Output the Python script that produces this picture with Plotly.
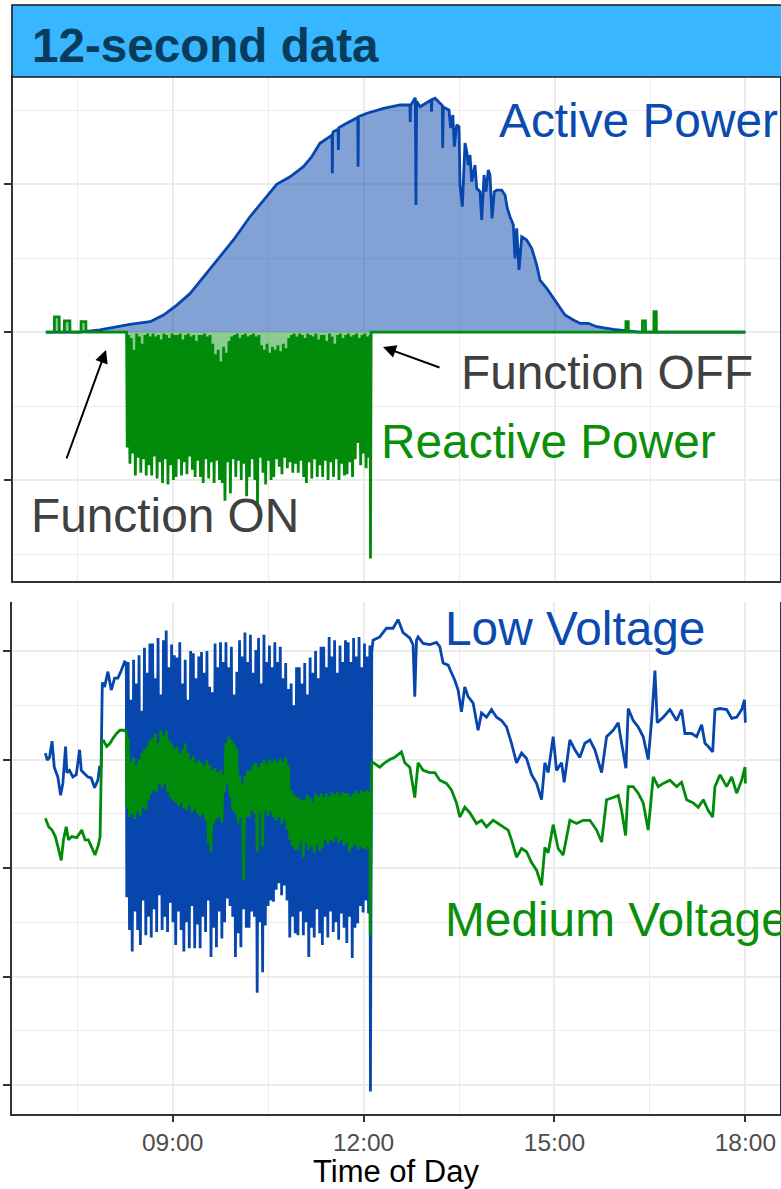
import numpy as np
import pandas as pd
import plotly.graph_objects as go

# ---------------------------------------------------------------------------
# Data (time of day in decimal hours; power in MW / MVAr; voltage in % of nominal)
# ---------------------------------------------------------------------------

# Active power, smooth irradiance-driven profile with cloud dips
P_HOURS = [7.00, 7.54, 7.85, 8.32, 8.64, 8.85, 9.06, 9.27, 9.42, 9.69, 9.95, 10.21,
           10.47, 10.63, 10.84, 11.05, 11.18, 11.31, 11.50, 11.505, 11.51, 11.52,
           11.595, 11.60, 11.605, 11.73, 11.905, 11.91, 11.915, 12.05, 12.31, 12.57,
           12.725, 12.73, 12.735, 12.81, 12.82, 12.83, 12.884, 13.06, 13.065, 13.07,
           13.12, 13.19, 13.235, 13.24, 13.25, 13.28, 13.34, 13.365, 13.40, 13.423,
           13.46, 13.497, 13.513, 13.549, 13.591, 13.618, 13.643, 13.67, 13.696,
           13.748, 13.775, 13.827, 13.854, 13.89, 13.921, 13.958, 13.984, 14.016,
           14.052, 14.09, 14.168, 14.22, 14.256, 14.299, 14.351, 14.377, 14.404,
           14.44, 14.483, 14.561, 14.64, 14.719, 14.77, 14.876, 14.98, 15.085,
           15.164, 15.294, 15.40, 15.53, 15.662, 15.923, 16.08, 16.34, 18.00]
P_MW = [0.0, 0.0, 0.014, 0.052, 0.07, 0.115, 0.182, 0.261, 0.34, 0.486, 0.622, 0.779,
        0.914, 0.998, 1.049, 1.117, 1.184, 1.275, 1.33, 1.072, 1.34, 1.353,
        1.37, 1.23, 1.38, 1.41, 1.45, 1.117, 1.455, 1.478, 1.511, 1.534,
        1.534, 1.419, 1.53, 1.583, 0.858, 1.56, 1.522, 1.568, 1.489, 1.568,
        1.579, 1.547, 1.53, 1.243, 1.52, 1.514, 1.50, 1.378, 1.466, 1.252,
        1.399, 1.387, 0.993, 0.847, 1.277, 1.218, 1.128, 1.196, 1.016,
        1.128, 0.971, 0.948, 0.757, 1.061, 0.948, 1.095, 1.061, 0.768,
        0.948, 0.959, 0.959, 0.926, 0.836, 0.779, 0.723, 0.498, 0.701,
        0.419, 0.644, 0.622, 0.566, 0.453, 0.351, 0.295, 0.228, 0.16,
        0.115, 0.081, 0.059, 0.059, 0.036, 0.018, 0.012, 0.0, 0.0]

# Reactive power before the volt-var function is switched on
Q_PRE_HOURS = [7.00, 7.134, 7.136, 7.21, 7.212, 7.29, 7.292, 7.378, 7.38,
               7.553, 7.555, 7.63, 7.632, 8.27]
Q_PRE_MVAR = [0.0, 0.0, 0.103, 0.103, 0.0, 0.0, 0.076, 0.076, 0.0,
              0.0, 0.07, 0.07, 0.0, 0.0]

# Oscillating 12-second block while the function is ON (08:17 - 12:06)
OSC_START_H = 8.28
OSC_END_H = 12.10
Q_OSC_MVAR = [
    -0.78, -0.02, -0.89, -0.04, -0.82, -0.12, -0.97, -0.01, -0.85, -0.03, -0.95, -0.08, -0.86, -0.02, -0.97, -0.01, -0.90, -0.03,
    -0.97, -0.01, -0.84, -0.03, -0.99, -0.02, -0.88, -0.05, -1.02, -0.01, -0.86, -0.02, -1.03, -0.04, -0.90, -0.01, -1.00, -0.02,
    -0.98, -0.02, -0.86, -0.01, -0.97, -0.05, -0.88, -0.02, -0.96, -0.01, -0.84, -0.03, -0.93, -0.02, -0.98, -0.06, -0.87, -0.02,
    -0.98, -0.02, -1.02, -0.01, -0.86, -0.03, -0.99, -0.02, -0.88, -0.08, -1.02, -0.15, -0.87, -0.12, -1.00, -0.20, -1.02, -0.10,
    -1.14, -0.14, -0.88, -0.06, -1.09, -0.03, -0.86, -0.02, -0.98, -0.01, -0.87, -0.04, -1.00, -0.02, -0.89, -0.01, -1.11, -0.03,
    -0.98, -0.02, -0.86, -0.01, -1.00, -0.03, -1.18, -0.02, -0.85, -0.09, -0.95, -0.12, -1.03, -0.08, -0.87, -0.14, -1.00, -0.10,
    -0.98, -0.12, -0.86, -0.09, -0.91, -0.13, -0.96, -0.08, -0.85, -0.11, -0.92, -0.04, -0.88, -0.02, -0.95, -0.01, -0.89, -0.03,
    -0.95, -0.01, -0.87, -0.02, -0.98, -0.04, -1.02, -0.01, -0.88, -0.02, -0.99, -0.03, -0.86, -0.01, -0.98, -0.05, -0.90, -0.02,
    -0.98, -0.02, -0.87, -0.06, -1.00, -0.01, -0.88, -0.03, -0.98, -0.08, -0.86, -0.02, -1.00, -0.01, -0.89, -0.04, -0.97, -0.02,
    -0.96, -0.01, -0.88, -0.03, -0.98, -0.02, -0.86, -0.01, -0.75, -0.04, -0.90, -0.02, -0.82, -0.01, -0.92, -0.03, -0.85, -0.02,
]

# Reactive power after the function is switched OFF
Q_POST_HOURS = [12.105, 12.115, 16.12, 16.122, 16.158, 16.16, 16.38, 16.382,
                16.428, 16.43, 16.56, 16.562, 16.598, 16.60, 18.00]
Q_POST_MVAR = [-1.53, 0.0, 0.0, 0.07, 0.07, 0.0, 0.0, 0.076,
               0.076, 0.0, 0.0, 0.137, 0.137, 0.0, 0.0]

# Low-voltage side
LV_PRE_HOURS = [7.00, 7.03, 7.066, 7.105, 7.14, 7.196, 7.24, 7.275, 7.318, 7.338,
                7.38, 7.432, 7.486, 7.538, 7.565, 7.668, 7.72, 7.774, 7.826, 7.852,
                7.876, 7.895, 7.931, 7.983, 8.036, 8.088, 8.14, 8.193, 8.245, 8.272]
LV_PRE_PCT = [101.06, 100.995, 101.02, 101.17, 100.93, 100.84, 100.67, 100.78, 101.12, 100.88,
              100.90, 100.84, 100.86, 101.09, 100.90, 100.84, 100.83, 100.74, 100.81, 100.93,
              100.93, 101.71, 101.67, 101.81, 101.64, 101.75, 101.75, 101.82, 101.90, 101.89]
LV_OSC_PCT = [
    99.73, 101.90, 99.43, 101.55, 99.23, 101.92, 99.60, 101.70, 99.43, 101.96, 99.29, 101.45, 99.70, 102.03, 99.38, 101.80, 99.55, 102.07,
    99.36, 102.07, 99.62, 101.75, 99.41, 102.12, 99.75, 101.60, 99.43, 102.10, 99.55, 102.19, 99.41, 101.85, 99.68, 102.06, 99.50, 101.96,
    99.29, 101.94, 99.60, 102.08, 99.43, 101.70, 99.23, 101.92, 99.50, 101.55, 99.26, 102.00, 99.65, 101.98, 99.26, 101.75, 99.48, 101.95,
    99.26, 101.99, 99.55, 101.80, 99.41, 102.00, 99.70, 101.67, 99.18, 101.62, 99.45, 102.07, 99.27, 101.85, 99.60, 102.08, 99.35, 101.90,
    99.50, 102.08, 99.72, 101.85, 99.65, 102.04, 99.55, 101.60, 99.18, 101.81, 99.40, 102.10, 99.27, 101.95, 99.62, 102.17, 99.45, 101.90,
    99.45, 102.15, 99.60, 101.80, 99.55, 102.01, 98.85, 102.12, 99.50, 101.70, 99.04, 102.15, 99.47, 101.90, 99.65, 102.05, 99.70, 101.85,
    99.69, 102.08, 99.80, 101.90, 99.86, 102.04, 99.75, 101.75, 99.84, 101.89, 99.70, 101.65, 99.36, 101.70, 99.55, 101.50, 99.40, 101.85,
    99.38, 101.85, 99.60, 101.70, 99.38, 101.89, 99.50, 101.60, 99.18, 101.94, 99.45, 101.80, 99.36, 102.00, 99.62, 101.75, 99.40, 102.04,
    99.29, 102.04, 99.55, 101.85, 99.36, 102.13, 99.60, 101.95, 99.41, 102.10, 99.50, 101.80, 99.34, 102.05, 99.58, 101.90, 99.45, 102.10,
    99.31, 102.08, 99.55, 101.90, 99.17, 102.12, 99.45, 101.95, 99.49, 102.13, 99.65, 101.85, 99.59, 102.07, 99.70, 101.95, 99.58, 102.05,
]
LV_POST_HOURS = [12.108, 12.129, 12.149, 12.255, 12.36, 12.464, 12.542, 12.621, 12.726, 12.778,
                 12.805, 12.832, 12.857, 12.936, 13.041, 13.146, 13.198, 13.25, 13.329, 13.382,
                 13.434, 13.486, 13.539, 13.591, 13.643, 13.722, 13.80, 13.854, 13.932, 14.011,
                 14.09, 14.168, 14.247, 14.325, 14.404, 14.483, 14.561, 14.64, 14.719, 14.797,
                 14.849, 14.901, 14.98, 15.033, 15.112, 15.153, 15.242, 15.321, 15.399, 15.478,
                 15.557, 15.635, 15.741, 15.819, 15.923, 16.002, 16.055, 16.123, 16.159, 16.237,
                 16.316, 16.395, 16.473, 16.527, 16.579, 16.615, 16.709, 16.814, 16.92, 16.998,
                 17.05, 17.156, 17.234, 17.313, 17.365, 17.417, 17.486, 17.522, 17.601, 17.706,
                 17.785, 17.863, 17.942, 17.985, 18.00]
LV_POST_PCT = [97.94, 101.99, 102.10, 102.13, 102.21, 102.21, 102.29, 102.17, 102.12, 102.06,
               101.58, 102.10, 102.13, 102.07, 102.06, 102.08, 102.04, 101.89, 101.87, 101.80,
               101.73, 101.64, 101.44, 101.67, 101.58, 101.52, 101.27, 101.43, 101.39, 101.46,
               101.39, 101.36, 101.30, 101.15, 100.97, 101.06, 101.01, 100.86, 100.78, 100.63,
               100.97, 100.88, 101.21, 100.90, 100.97, 100.79, 101.18, 101.09, 101.02, 101.15,
               101.18, 101.09, 100.88, 101.21, 101.27, 101.34, 101.15, 100.92, 101.47, 101.36,
               101.30, 101.21, 101.00, 101.36, 101.82, 101.34, 101.39, 101.46, 101.36, 101.46,
               101.24, 101.24, 101.21, 101.32, 101.15, 101.12, 101.07, 101.46, 101.47, 101.46,
               101.38, 101.39, 101.46, 101.55, 101.34]

# Medium-voltage side
MV_PRE_HOURS = [7.00, 7.052, 7.105, 7.157, 7.209, 7.25, 7.285, 7.328, 7.363, 7.415,
                7.494, 7.572, 7.624, 7.676, 7.729, 7.781, 7.833, 7.86, 7.886, 7.912,
                7.964, 8.016, 8.068, 8.12, 8.173, 8.251, 8.272]
MV_PRE_PCT = [100.46, 100.38, 100.35, 100.29, 100.17, 100.07, 100.26, 100.38, 100.26, 100.29,
              100.28, 100.35, 100.26, 100.26, 100.19, 100.12, 100.21, 100.29, 101.15, 101.18,
              101.12, 101.15, 101.20, 101.24, 101.27, 101.27, 101.25]
MV_OSC_PCT = [
    100.55, 101.20, 100.47, 100.98, 100.50, 101.02, 100.45, 100.95, 100.52, 101.00, 100.48, 101.06, 100.56, 101.09, 100.53, 101.12, 100.63, 101.18,
    100.68, 101.20, 100.72, 101.24, 100.70, 101.15, 100.78, 101.27, 100.74, 101.22, 100.78, 101.27, 100.70, 101.18, 100.65, 101.15, 100.62, 101.10,
    100.60, 101.12, 100.57, 101.05, 100.60, 101.09, 100.55, 101.15, 100.53, 101.06, 100.58, 101.00, 100.51, 101.03, 100.54, 100.97, 100.50, 100.99,
    100.47, 100.97, 100.50, 100.94, 100.44, 100.99, 100.23, 100.95, 100.15, 100.90, 100.41, 100.92, 100.45, 100.88, 100.47, 100.90, 100.42, 100.86,
    100.70, 101.15, 100.78, 101.21, 100.65, 101.18, 100.53, 101.15, 100.50, 101.10, 100.41, 100.85, 100.47, 100.78, 99.89, 100.85, 100.47, 100.90,
    100.47, 100.90, 100.53, 100.95, 100.50, 100.97, 100.15, 100.93, 100.51, 100.97, 100.20, 101.00, 100.53, 100.96, 100.48, 101.00, 100.52, 100.98,
    100.47, 101.00, 100.44, 100.97, 100.47, 101.01, 100.41, 100.98, 100.44, 101.02, 100.35, 100.95, 100.26, 100.72, 100.20, 100.68, 100.17, 100.65,
    100.17, 100.65, 100.23, 100.62, 100.10, 100.63, 100.23, 100.67, 100.17, 100.65, 100.20, 100.60, 100.14, 100.69, 100.22, 100.66, 100.16, 100.69,
    100.19, 100.65, 100.26, 100.69, 100.22, 100.66, 100.26, 100.70, 100.24, 100.68, 100.28, 100.70, 100.23, 100.67, 100.26, 100.70, 100.21, 100.69,
    100.23, 100.69, 100.15, 100.66, 100.19, 100.69, 100.22, 100.71, 100.17, 100.68, 100.20, 100.72, 100.18, 100.70, 100.17, 100.72, 100.20, 100.70,
]
MV_POST_HOURS = [12.105, 12.129, 12.255, 12.333, 12.412, 12.49, 12.596, 12.648, 12.726, 12.805,
                 12.857, 12.936, 13.041, 13.12, 13.198, 13.303, 13.382, 13.461, 13.513, 13.591,
                 13.67, 13.775, 13.854, 13.932, 14.036, 14.115, 14.193, 14.272, 14.325, 14.404,
                 14.483, 14.561, 14.64, 14.719, 14.797, 14.849, 14.901, 14.98, 15.058, 15.137,
                 15.242, 15.347, 15.451, 15.557, 15.662, 15.741, 15.819, 15.923, 16.002, 16.055,
                 16.118, 16.159, 16.237, 16.316, 16.395, 16.473, 16.552, 16.63, 16.709, 16.814,
                 16.92, 16.998, 17.077, 17.181, 17.26, 17.338, 17.417, 17.486, 17.522, 17.601,
                 17.706, 17.785, 17.863, 17.942, 17.994, 18.00]
MV_POST_PCT = [99.38, 100.98, 100.93, 100.97, 101.00, 101.02, 101.07, 100.97, 100.93, 100.65,
               100.97, 100.90, 100.88, 100.88, 100.81, 100.78, 100.72, 100.60, 100.47, 100.56,
               100.51, 100.41, 100.44, 100.38, 100.44, 100.41, 100.38, 100.35, 100.26, 100.10,
               100.18, 100.15, 100.05, 99.98, 99.84, 100.19, 100.14, 100.40, 100.18, 100.12,
               100.44, 100.41, 100.44, 100.44, 100.35, 100.24, 100.63, 100.65, 100.67, 100.53,
               100.30, 100.75, 100.75, 100.69, 100.60, 100.35, 100.84, 100.75, 100.78, 100.81,
               100.75, 100.79, 100.63, 100.60, 100.56, 100.63, 100.53, 100.47, 100.75, 100.86,
               100.75, 100.84, 100.69, 100.81, 100.93, 100.78]

# ---------------------------------------------------------------------------
# Helpers
# ---------------------------------------------------------------------------
DAY = pd.Timestamp("2019-06-15")


def clock(hours):
    return DAY + pd.to_timedelta(np.asarray(hours, dtype=float), unit="h")


def series(pre_h, pre_v, osc_v, post_h, post_v):
    osc_h = np.linspace(OSC_START_H, OSC_END_H, len(osc_v))
    h = np.concatenate([pre_h, osc_h, post_h])
    v = np.concatenate([pre_v, osc_v, post_v])
    return clock(h), v


W, H = 781, 1189
BLUE = "#0646AD"
GREEN = "#008C0A"
GRID = "#EBEBEB"
AXIS = "#333333"
FONT = "Liberation Sans, Arial, sans-serif"


def px(x):
    return x / W


def py(y):
    return 1 - y / H


q_t, q_v = series(Q_PRE_HOURS, Q_PRE_MVAR, Q_OSC_MVAR, Q_POST_HOURS, Q_POST_MVAR)
lv_t, lv_v = series(LV_PRE_HOURS, LV_PRE_PCT, LV_OSC_PCT, LV_POST_HOURS, LV_POST_PCT)
mv_t, mv_v = series(MV_PRE_HOURS, MV_PRE_PCT, MV_OSC_PCT, MV_POST_HOURS, MV_POST_PCT)

fig = go.Figure()

fig.add_trace(go.Scatter(
    x=clock(P_HOURS), y=P_MW, mode="lines", fill="tozeroy",
    fillcolor="rgba(6,70,173,0.5)", line=dict(color=BLUE, width=2.8),
    xaxis="x", yaxis="y", hoverinfo="skip"))
fig.add_trace(go.Scatter(
    x=q_t, y=q_v, mode="lines", fill="tozeroy",
    fillcolor="rgba(0,140,10,0.45)", line=dict(color=GREEN, width=2.8, simplify=False),
    xaxis="x", yaxis="y", hoverinfo="skip"))
fig.add_trace(go.Scatter(
    x=lv_t, y=lv_v, mode="lines", line=dict(color=BLUE, width=2.8, simplify=False),
    xaxis="x2", yaxis="y2", hoverinfo="skip"))
fig.add_trace(go.Scatter(
    x=mv_t, y=mv_v, mode="lines", line=dict(color=GREEN, width=2.8, simplify=False),
    xaxis="x2", yaxis="y2", hoverinfo="skip"))

x_range = [clock([6.476])[0], clock([18.544])[0]]
three_h = 3 * 3600 * 1000
half_3h = 1.5 * 3600 * 1000

common_x = dict(
    type="date", range=x_range, tick0=clock([9])[0], dtick=three_h,
    showgrid=True, gridcolor=GRID, gridwidth=1.7, zeroline=False,
    minor=dict(tick0=clock([7.5])[0], dtick=half_3h, showgrid=True,
               gridcolor=GRID, gridwidth=1.0),
    showline=True, linecolor=AXIS, linewidth=1.6,
)

fig.update_layout(
    width=W, height=H, margin=dict(l=0, r=0, t=0, b=0),
    paper_bgcolor="white", plot_bgcolor="white", showlegend=False,
    font=dict(family=FONT),
    xaxis=dict(common_x, domain=[px(12.5), px(780)], anchor="y",
               showticklabels=False, ticks="", mirror=True),
    yaxis=dict(domain=[py(581), py(77)], anchor="x", range=[-1.682, 1.723],
               tick0=0, dtick=1, showticklabels=False, ticks="outside",
               ticklen=7, tickwidth=1.8, tickcolor=AXIS,
               showgrid=True, gridcolor=GRID, gridwidth=1.7, zeroline=False,
               minor=dict(dtick=0.5, showgrid=True, gridcolor=GRID, gridwidth=1.0),
               showline=True, linecolor=AXIS, linewidth=1.6, mirror=True),
    xaxis2=dict(common_x, domain=[px(12), px(780)], anchor="y2",
                ticks="outside", ticklen=6, tickwidth=1.8, tickcolor=AXIS,
                tickformat="%H:%M", tickfont=dict(size=24.5, color="#4D4D4D"),
                title=dict(text="Time of Day", font=dict(size=31, color="black"),
                           standoff=7),
                mirror=False),
    yaxis2=dict(domain=[py(1114), py(602)], anchor="x2", range=[97.733, 102.452],
                tick0=100, dtick=1, showticklabels=False, ticks="outside",
                ticklen=7, tickwidth=1.8, tickcolor=AXIS,
                showgrid=True, gridcolor=GRID, gridwidth=1.7, zeroline=False,
                minor=dict(dtick=0.5, showgrid=True, gridcolor=GRID, gridwidth=1.0),
                showline=True, linecolor=AXIS, linewidth=1.6, mirror=True),
)

# Header strip
fig.add_shape(type="rect", xref="paper", yref="paper",
              x0=px(12), x1=1.02, y0=py(77), y1=py(5),
              fillcolor="#38B6FF", line=dict(color="#1A1A1A", width=1.6))


def label(text, x, y, color, size=47.8, bold=False):
    fig.add_annotation(
        text=f"<b>{text}</b>" if bold else text, xref="paper", yref="paper",
        x=px(x), y=py(y), xanchor="left", yanchor="middle", showarrow=False,
        font=dict(family=FONT, size=size, color=color))


label("12-second data", 30, 45, "#083C5C", size=47.6, bold=True)
label("Active Power", 497, 120, "#0B4AB0")
label("Function OFF", 459, 372, "#404040")
label("Reactive Power", 379, 441, "#0A8F0A")
label("Function ON", 29, 515, "#404040")
label("Low Voltage", 443, 628, "#0B4AB0")
label("Medium Voltage", 443, 919, "#0A8F0A")


def arrow(head_x, head_y, tail_x, tail_y):
    fig.add_annotation(
        text="", xref="paper", yref="paper", x=px(head_x), y=py(head_y),
        ax=tail_x - head_x, ay=tail_y - head_y, showarrow=True,
        arrowhead=2, arrowsize=1.3, arrowwidth=2, arrowcolor="black")


arrow(106, 350, 66, 460)
arrow(383, 347, 441, 368)

fig.write_html("out.html")
